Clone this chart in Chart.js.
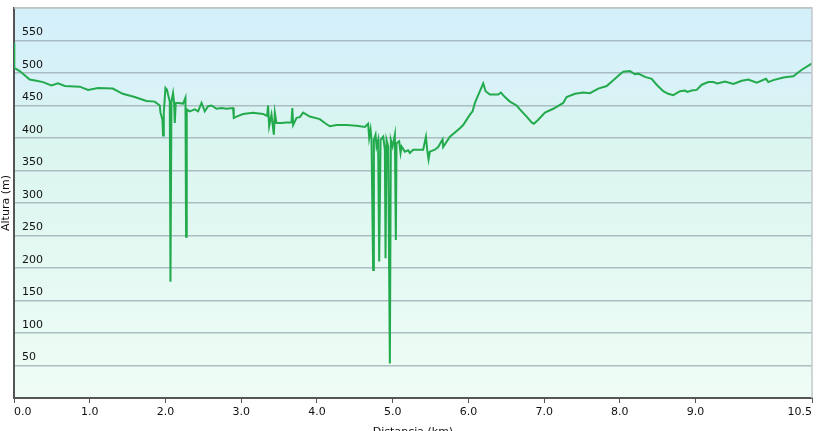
<!DOCTYPE html>
<html>
<head>
<meta charset="utf-8">
<script src="https://cdn.jsdelivr.net/npm/chart.js@4.4.1/dist/chart.umd.min.js"></script>
<style>
  html, body { margin: 0; padding: 0; background: #fff; overflow: hidden; }
  #marco { width: 816px; height: 431px; overflow: hidden; position: relative; }
</style>
</head>
<body>
<div id="marco">
  <canvas id="perfil" width="816" height="445"></canvas>
</div>
<script>
const distanciaKm = [
  0.000, 0.004, 0.075, 0.207, 0.296, 0.383, 0.494, 0.581, 0.670, 0.868, 0.978,
  1.110, 1.304, 1.436, 1.594, 1.749, 1.859, 1.925, 1.934, 1.960, 1.968, 1.978,
  2.000, 2.021, 2.034, 2.057, 2.066, 2.079, 2.100, 2.114, 2.123, 2.136, 2.166,
  2.233, 2.264, 2.272, 2.281, 2.321, 2.387, 2.431, 2.476, 2.519, 2.563, 2.608,
  2.674, 2.740, 2.806, 2.893, 2.902, 2.938, 3.025, 3.157, 3.289, 3.342, 3.355,
  3.369, 3.400, 3.431, 3.444, 3.466, 3.532, 3.598, 3.664, 3.675, 3.686, 3.731,
  3.774, 3.818, 3.906, 4.038, 4.104, 4.170, 4.259, 4.391, 4.523, 4.633, 4.676,
  4.690, 4.708, 4.721, 4.742, 4.752, 4.774, 4.787, 4.808, 4.822, 4.840, 4.875,
  4.897, 4.906, 4.919, 4.941, 4.963, 4.976, 4.999, 5.029, 5.042, 5.051, 5.086,
  5.104, 5.118, 5.161, 5.205, 5.227, 5.271, 5.403, 5.439, 5.456, 5.474, 5.491,
  5.557, 5.601, 5.659, 5.667, 5.756, 5.888, 5.931, 6.020, 6.055, 6.086, 6.152,
  6.196, 6.227, 6.284, 6.394, 6.429, 6.482, 6.548, 6.637, 6.680, 6.769, 6.835,
  6.865, 6.922, 7.011, 7.120, 7.252, 7.297, 7.407, 7.517, 7.605, 7.715, 7.826,
  7.913, 8.002, 8.045, 8.133, 8.199, 8.243, 8.332, 8.420, 8.486, 8.573, 8.639,
  8.705, 8.794, 8.860, 8.890, 8.948, 9.015, 9.081, 9.168, 9.234, 9.287, 9.389,
  9.498, 9.609, 9.696, 9.807, 9.930, 9.960, 10.026, 10.159, 10.204, 10.291,
  10.402, 10.511, 10.537
];
const alturaM = [
  546, 508, 503, 490, 488, 486, 481, 484, 480, 479, 474,
  477, 476, 468, 463, 457, 456, 450, 439, 428, 404, 439,
  477, 474, 467, 456, 179, 456, 469, 454, 423, 454, 454,
  453, 462, 248, 444, 441, 444, 441, 454, 441, 449, 450,
  445, 446, 445, 446, 431, 433, 437, 439, 437, 434, 450,
  418, 436, 405, 439, 423, 423, 424, 424, 446, 420, 431,
  432, 439, 433, 429, 423, 418, 420, 420, 419, 417, 422,
  400, 413, 397, 197, 397, 405, 387, 397, 210, 397, 402,
  382, 215, 397, 387, 53, 397, 387, 405, 243, 392, 395,
  377, 387, 379, 381, 377, 382, 382, 402, 382, 367, 379,
  382, 386, 398, 386, 402, 415, 420, 436, 441, 454, 472,
  484, 472, 467, 467, 470, 463, 456, 450, 444, 433, 424,
  422, 428, 439, 445, 454, 463, 468, 470, 469, 476, 480,
  489, 498, 502, 503, 498, 499, 494, 491, 482, 472, 468,
  466, 472, 473, 471, 473, 474, 482, 486, 486, 484, 487,
  483, 488, 490, 485, 491, 486, 489, 493, 494, 495,
  505, 513, 515
];
// Marcas del eje X (la ultima es la distancia total)
const marcasKm = [0, 1, 2, 3, 4, 5, 6, 7, 8, 9, 10.537];
const alturaMin = 0;
const alturaMax = 600;
const pasoAltura = 50;

const puntos = distanciaKm.map((d, i) => ({ x: d, y: alturaM[i] }));
const fuente = { family: 'DejaVu Sans', size: 11 };

// Fondo degradado y borde superior/derecho del area del grafico
const fondoPlugin = {
  id: 'fondo',
  beforeDraw(chart) {
    const { ctx, chartArea: a } = chart;
    const g = ctx.createLinearGradient(0, a.top, 0, a.bottom);
    g.addColorStop(0, '#d3effa');
    g.addColorStop(0.2, '#d9f2f8');
    g.addColorStop(0.3, '#d9f5ef');
    g.addColorStop(1, '#effdf6');
    ctx.save();
    ctx.fillStyle = g;
    ctx.fillRect(a.left, a.top, a.right - a.left, a.bottom - a.top);
    ctx.restore();
  },
  afterDraw(chart) {
    const { ctx, chartArea: a } = chart;
    ctx.save();
    ctx.strokeStyle = '#c4c8ca';
    ctx.lineWidth = 1.5;
    ctx.beginPath();
    ctx.moveTo(a.left, a.top);
    ctx.lineTo(a.right, a.top);
    ctx.lineTo(a.right, a.bottom);
    ctx.stroke();
    ctx.restore();
  }
};

new Chart(document.getElementById('perfil'), {
  type: 'line',
  data: {
    datasets: [{
      label: 'Altura',
      data: puntos,
      borderColor: 'rgb(34,170,76)',
      borderWidth: 2,
      pointRadius: 0,
      tension: 0,
      fill: false
    }]
  },
  options: {
    responsive: false,
    animation: false,
    layout: { padding: { top: 8, right: 4, left: 0, bottom: 0 } },
    plugins: { legend: { display: false }, tooltip: { enabled: false } },
    scales: {
      x: {
        type: 'linear',
        min: 0,
        max: 10.537,
        afterFit: s => { s.height = 47; s.paddingLeft = 0; s.paddingRight = 0; },
        afterBuildTicks: s => { s.ticks = marcasKm.map(v => ({ value: v })); },
        ticks: {
          font: fuente,
          color: '#111',
          padding: 3,
          align: 'inner',
          maxRotation: 0,
          autoSkip: false,
          callback: v => v.toFixed(1)
        },
        grid: { drawOnChartArea: false, drawTicks: true, tickLength: 5, color: '#555', lineWidth: 1 },
        border: { color: '#555', width: 2 },
        title: { display: true, text: 'Distancia (km)', font: fuente, color: '#111', padding: { top: 0, bottom: 6 } }
      },
      y: {
        min: alturaMin,
        max: alturaMax,
        afterFit: s => { s.width = 14; s.paddingTop = 0; s.paddingBottom = 0; },
        ticks: {
          stepSize: pasoAltura,
          mirror: true,
          padding: 8,
          labelOffset: -8,
          font: fuente,
          color: '#111',
          callback: v => (v === alturaMin || v === alturaMax) ? '' : v
        },
        grid: { color: 'rgba(165,182,188,0.9)', lineWidth: 1.5, drawTicks: false },
        border: { color: '#555', width: 2 },
        title: { display: true, text: 'Altura (m)', font: fuente, color: '#111', padding: { top: 0, bottom: 0 } }
      }
    }
  },
  plugins: [fondoPlugin]
});
</script>
</body>
</html>
